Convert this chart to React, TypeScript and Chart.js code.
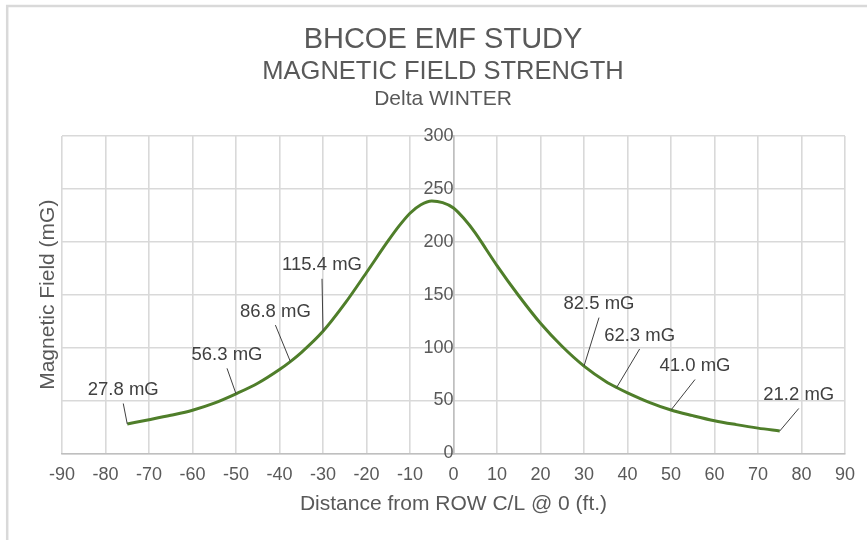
import React, { useEffect, useRef } from "react";
import { Chart, registerables } from "chart.js";

Chart.register(...registerables);

// Distance from ROW centre line (ft.)
const distances = [-75, -70, -65, -60, -55, -50, -45, -40, -37.5, -35, -30, -25, -20, -15, -12.5, -10, -7.5, -5, -2.5, 0, 2.5, 5, 7.5, 10, 15, 20, 25, 30, 35, 37.5, 40, 45, 50, 55, 60, 65, 70, 75];
// Magnetic field (mG)
const fieldValues = [27.8, 31.8, 36.0, 40.8, 47.5, 56.3, 66.3, 79.3, 86.8, 95.3, 115.4, 141.5, 171.0, 201.0, 215.0, 227.0, 235.0, 238.5, 237.0, 232.0, 221.5, 208.5, 193.0, 177.5, 149.0, 123.0, 101.0, 82.5, 68.0, 62.3, 57.3, 48.3, 41.0, 35.7, 30.9, 27.2, 23.9, 21.2];

// Points that carry a value label
const labelledDistances = [-75, -50, -37.5, -30, 30, 37.5, 50, 75];
// Label placement relative to the point (pixels)
const labelOffsets = [
  [-4, -34],
  [-9, -39],
  [-15, -50],
  [-1, -66],
  [15, -62],
  [23, -52],
  [24, -44],
  [19, -36],
];

const titleLines = ["BHCOE EMF STUDY", "MAGNETIC FIELD STRENGTH", "Delta WINTER"];
const xAxisTitle = "Distance from ROW C/L @ 0 (ft.)";
const yAxisTitle = "Magnetic Field (mG)";

const FONT = "'Liberation Sans', Arial, sans-serif";
const TEXT = "#595959";

const decorPlugin = {
  id: "decor",
  beforeDraw(chart: any) {
    const ctx = chart.ctx;
    ctx.save();
    ctx.fillStyle = "#ffffff";
    ctx.fillRect(0, 0, chart.width, chart.height);
    ctx.strokeStyle = "#d9d9d9";
    ctx.lineWidth = 2.5;
    ctx.beginPath();
    ctx.moveTo(7.2, chart.height);
    ctx.lineTo(7.2, 6);
    ctx.lineTo(chart.width, 6);
    ctx.stroke();
    ctx.restore();
  },
  afterDatasetsDraw(chart: any) {
    const ctx = chart.ctx;
    const xs = chart.scales.x;
    const ys = chart.scales.y;
    ctx.save();
    ctx.font = `18.5px ${FONT}`;
    ctx.textAlign = "center";
    ctx.textBaseline = "middle";
    labelledDistances.forEach((d, i) => {
      const idx = distances.indexOf(d);
      const v = fieldValues[idx];
      const px = xs.getPixelForValue(d);
      const py = ys.getPixelForValue(v);
      const [dx, dy] = labelOffsets[i];
      const tx = px + dx;
      const ty = py + dy;
      ctx.strokeStyle = "#404040";
      ctx.lineWidth = 1;
      ctx.beginPath();
      ctx.moveTo(tx, ty + 13.5);
      ctx.lineTo(px, py);
      ctx.stroke();
      ctx.fillStyle = "#404040";
      ctx.fillText(`${v.toFixed(1)} mG`, tx, ty);
    });
    ctx.restore();
  },
  afterDraw(chart: any) {
    const ctx = chart.ctx;
    const area = chart.chartArea;
    ctx.save();
    ctx.fillStyle = TEXT;
    ctx.textAlign = "center";
    ctx.textBaseline = "middle";
    const cx = 443;
    ctx.font = `29px ${FONT}`;
    ctx.fillText(titleLines[0], cx, 40);
    ctx.font = `25.5px ${FONT}`;
    ctx.fillText(titleLines[1], cx, 72);
    ctx.font = `21px ${FONT}`;
    ctx.fillText(titleLines[2], cx, 99);
    // x axis title
    ctx.font = `21px ${FONT}`;
    ctx.fillText(xAxisTitle, (area.left + area.right) / 2, 504);
    // y axis title
    ctx.translate(48, (area.top + area.bottom) / 2);
    ctx.rotate(-Math.PI / 2);
    ctx.fillText(yAxisTitle, 0, 0);
    ctx.restore();
  },
};

export default function App() {
  const ref = useRef<HTMLCanvasElement | null>(null);
  useEffect(() => {
    document.body.style.margin = "0";
    const canvas = ref.current;
    if (!canvas) return;
    const chart = new Chart(canvas, {
      type: "line",
      data: {
        datasets: [
          {
            label: "Magnetic Field",
            data: distances.map((d, i) => ({ x: d, y: fieldValues[i] })),
            borderColor: "#4F7E2A",
            borderWidth: 3,
            pointRadius: 0,
            cubicInterpolationMode: "monotone",
            fill: false,
          },
        ],
      },
      options: {
        responsive: false,
        animation: false,
        devicePixelRatio: 1,
        layout: { padding: { left: 62, right: 22, top: 136, bottom: 43 } },
        plugins: {
          legend: { display: false },
          title: { display: false },
          tooltip: { enabled: false },
        },
        scales: {
          x: {
            type: "linear",
            min: -90,
            max: 90,
            ticks: {
              stepSize: 10,
              color: TEXT,
              font: { family: FONT, size: 18 },
              padding: 11,
              maxRotation: 0,
              autoSkip: false,
            },
            grid: { color: "#d9d9d9", lineWidth: 1.6, drawTicks: false },
            border: { color: "#bfbfbf", width: 1.6 },
          },
          y: {
            type: "linear",
            position: { x: 0 } as any,
            min: 0,
            max: 300,
            ticks: {
              stepSize: 50,
              color: TEXT,
              font: { family: FONT, size: 18 },
              padding: 17,
            },
            grid: { color: "#d9d9d9", lineWidth: 1.6, drawTicks: false },
            border: { color: "#bfbfbf", width: 1.6 },
          },
        },
      },
      plugins: [decorPlugin],
    } as any);
    return () => chart.destroy();
  }, []);
  return (
    <div style={{ width: 867, height: 540 }}>
      <canvas ref={ref} width={867} height={540} style={{ display: "block", width: 867, height: 540 }} />
    </div>
  );
}
